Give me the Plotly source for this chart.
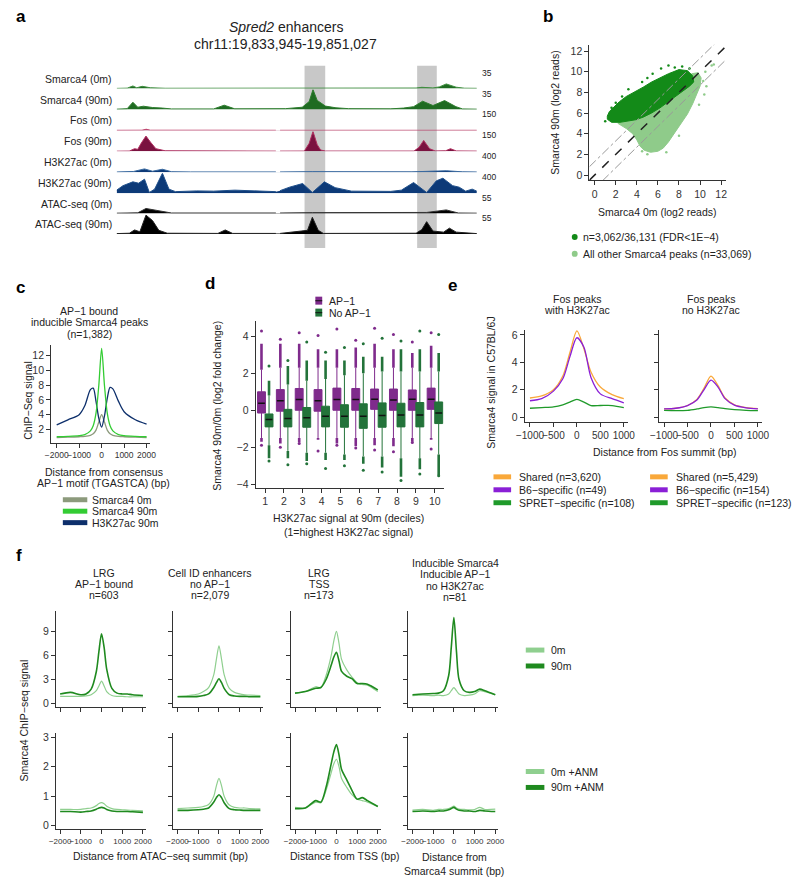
import plotly.graph_objects as go

W, H = 800, 886
FONT = "Arial, Liberation Sans, sans-serif"
TXT = 10.5

# ---------------- a: browser tracks (kb from chr11:19,833,945) ----------------
a_window_kb = [0, 17.08]
a_highlights_kb = [[8.91, 9.89], [14.25, 15.18]]
a_track_names = ["Smarca4 (0m)", "Smarca4 (90m)", "Fos (0m)", "Fos (90m)",
                 "H3K27ac (0m)", "H3K27ac (90m)", "ATAC-seq (0m)", "ATAC-seq (90m)"]
a_track_scales = [35, 35, 150, 150, 400, 400, 55, 55]

smarca4_0m_kb = [0, 0.5, 0.77, 0.95, 1.21, 1.6, 2.3, 5.2, 9.3, 9.4, 9.5, 13.5, 14.2, 14.47, 15.0, 15.3, 15.63, 16.1, 16.5, 17.08]
smarca4_0m = [0.4, 0.8, 4.7, 1.5, 4.0, 1.5, 0.6, 0.8, 0.8, 1.3, 0.8, 0.6, 1.0, 2.3, 1.2, 3.0, 8.2, 2.5, 0.7, 0.5]
smarca4_90m_kb = [0, 0.5, 0.77, 1.0, 1.27, 1.7, 2.17, 2.6, 4.6, 5.1, 5.6, 8.0, 8.8, 9.13, 9.31, 9.51, 9.9, 10.4, 11.0, 13.0,
                  13.6, 14.08, 14.51, 15.0, 15.55, 16.09, 16.4, 17.08]
smarca4_90m = [0.6, 1.5, 12.8, 4.0, 5.8, 3.5, 2.5, 1.0, 1.0, 7.6, 1.2, 1.5, 4.0, 14.0, 35, 16, 6, 3, 1.5, 1.2,
               2.5, 5.0, 14.6, 7.0, 15.7, 5.0, 1.0, 0.6]
fos_0m_kb = [0, 1.2, 1.4, 1.6, 5.0, 7.55, 7.6, 7.75, 9.2, 9.31, 9.45, 14.5, 14.6, 14.7, 17.08]
fos_0m = [1, 1.5, 9, 1.5, 1.5, 1, None, 1, 1, 4, 1, 1, 5, 1, 1]
fos_90m_kb = [0, 0.6, 0.85, 1.0, 1.16, 1.39, 1.6, 1.86, 2.3, 7.55, 7.6, 7.75, 8.9, 9.13, 9.31, 9.51, 9.67, 9.9, 14.1, 14.34,
              14.56, 14.84, 15.1, 15.6, 15.83, 16.1, 17.08]
fos_90m = [1, 2, 20, 15, 60, 115, 70, 20, 4, 1.5, None, 1.5, 2, 60, 150, 50, 10, 2, 2, 30,
           82, 20, 3, 4, 20, 3, 1.5]
h3k27ac_0m_kb = [0, 0.8, 1.32, 1.7, 2.17, 2.6, 3.5, 7.55, 7.6, 7.75, 9.3, 14.0, 15.63, 16.4, 17.08]
h3k27ac_0m = [5, 15, 67, 20, 60, 10, 6, 6, None, 6, 12, 8, 30, 8, 5]
h3k27ac_90m_kb = [0, 0.3, 0.77, 1.04, 1.32, 1.55, 1.8, 2.17, 2.48, 2.79, 3.8, 4.6, 5.6, 6.2, 6.8, 7.2, 7.55, 7.6, 7.75, 8.2,
                  8.82, 9.28, 9.85, 10.36, 11.14, 13.0, 13.5, 14.08, 14.70, 15.16, 15.47, 15.93, 16.24, 16.55, 16.86, 17.08]
h3k27ac_90m = [60, 150, 227, 200, 280, 13, 80, 400, 80, 30, 45, 40, 60, 55, 40, 45, 30, None, 50, 120,
               193, 13, 227, 110, 40, 35, 60, 213, 13, 247, 300, 150, 120, 40, 80, 40]
atac_0m_kb = [0, 1.0, 1.39, 2.17, 2.6, 7.55, 7.6, 7.75, 9.28, 14.7, 15.63, 16.2, 17.08]
atac_0m = [1, 2, 14, 5, 1.5, 1.5, None, 1.5, 2.5, 3, 10, 1.5, 1]
atac_90m_kb = [0, 0.6, 0.85, 1.1, 1.39, 1.7, 2.0, 2.4, 4.8, 5.15, 5.5, 7.55, 7.6, 7.75, 9.05, 9.28, 9.56, 9.8, 14.2, 14.47,
               14.7, 15.0, 15.5, 15.78, 16.1, 17.08]
atac_90m = [1, 2, 11, 6, 52, 37, 10, 2, 1.5, 11, 1.5, 1.5, None, 1.5, 10, 46, 10, 1.5, 2, 12,
            34, 8, 5, 16, 5, 1]

# ---------------- b: scatter cloud outlines (log2 reads) ----------------
b_other_x = [2.2, 3.0, 3.6, 4.0, 4.3, 4.7, 5.3, 6.0, 6.5, 7.0, 7.6, 8.2, 8.8, 9.3, 9.7, 10.0, 10.1, 9.8, 9.2, 8.4, 7.0, 5.4, 4.0, 3.0, 2.2]
b_other_y = [5.0, 4.5, 4.0, 3.4, 2.8, 2.4, 2.2, 2.3, 2.6, 3.2, 4.1, 5.0, 5.9, 6.9, 7.8, 8.6, 9.4, 9.9, 9.8, 8.9, 7.8, 6.7, 5.9, 5.4, 5.0]
b_sig_x = [1.2, 1.6, 2.4, 3.2, 3.9, 4.6, 5.4, 6.2, 7.0, 7.8, 8.5, 9.0, 9.4, 9.3, 8.8, 8.0, 7.0, 6.2, 5.4, 4.6, 3.9, 3.0, 2.35, 1.8, 1.4, 1.2, 1.2]
b_sig_y = [5.4, 5.1, 5.1, 5.2, 5.35, 5.6, 6.0, 6.5, 7.1, 7.7, 8.2, 8.6, 9.0, 9.6, 10.1, 10.2, 9.8, 9.4, 9.0, 8.5, 8.1, 7.6, 7.1, 6.6, 6.15, 5.7, 5.4]
b_sig_pts_x = [2.0, 1.6, 3.2, 4.5, 5.5, 6.3, 7.0, 7.6, 5.0, 2.6, 1.0, 8.3, 9.0]
b_sig_pts_y = [7.0, 6.5, 8.3, 9.0, 9.8, 10.3, 10.6, 10.4, 9.4, 7.6, 5.2, 10.5, 10.3]
b_other_pts_x = [10.5, 11.1, 10.3, 10.6, 8.0, 6.8, 5.0, 4.5, 9.9, 10.4, 11.3]
b_other_pts_y = [10.0, 10.6, 9.1, 8.6, 3.8, 2.2, 2.0, 2.3, 6.8, 7.8, 10.7]
b_diag_offsets = [0, 1.3, -1.3]

# ---------------- c: aggregate profiles ----------------
c_x = [-2000, -1500, -1000, -750, -500, -375, -250, -125, 0, 125, 250, 375, 500, 750, 1000, 1500, 2000]
c_smarca4_0m = [0.9, 0.95, 1.0, 1.05, 1.2, 1.4, 1.9, 3.0, 4.0, 3.0, 1.9, 1.4, 1.2, 1.05, 1.0, 0.95, 0.9]
c_smarca4_90m = [1.0, 1.05, 1.15, 1.3, 1.8, 2.5, 4.2, 8.0, 13.0, 8.0, 4.2, 2.5, 1.8, 1.3, 1.15, 1.05, 1.0]
c_h3k27ac_90m = [2.6, 3.3, 4.0, 5.2, 7.4, 7.6, 5.8, 3.5, 2.3, 3.8, 6.2, 7.7, 7.5, 5.8, 4.4, 3.3, 2.7]

# ---------------- d: boxplots by H3K27ac decile ----------------
d_deciles = [1, 2, 3, 4, 5, 6, 7, 8, 9, 10]
d_ap1_q1 = [-0.15, -0.05, 0.0, -0.05, 0.0, 0.0, 0.05, 0.0, 0.0, 0.05]
d_ap1_med = [0.38, 0.52, 0.58, 0.52, 0.58, 0.58, 0.6, 0.55, 0.6, 0.6]
d_ap1_q3 = [1.0, 1.12, 1.18, 1.12, 1.2, 1.18, 1.15, 1.15, 1.1, 1.2]
d_ap1_lo = [-1.5, -1.5, -1.5, -1.5, -1.5, -1.5, -1.5, -1.5, -1.5, -1.5]
d_ap1_hi = [2.2, 2.3, 2.3, 2.3, 2.3, 2.3, 2.3, 2.3, 2.3, 2.3]
d_ap1_dense_lo = [-1.7, -1.8, -1.75, -1.6, -1.8, -1.95, -1.9, -1.95, -1.7, -1.6]
d_ap1_dense_hi = [3.6, 3.6, 3.6, 3.3, 3.3, 3.4, 3.6, 3.3, 3.1, 3.5]
d_ap1_min = [-1.9, -2.0, -1.8, -2.2, -1.9, -2.05, -2.15, -2.25, -1.75, -2.1]
d_ap1_max = [4.3, 3.85, 4.2, 4.05, 4.4, 3.8, 4.45, 4.1, 3.7, 4.2]
d_no_q1 = [-0.9, -0.9, -0.92, -0.9, -0.92, -0.98, -0.92, -0.9, -0.9, -0.72]
d_no_med = [-0.5, -0.45, -0.4, -0.32, -0.32, -0.32, -0.28, -0.25, -0.25, -0.15]
d_no_q3 = [-0.2, 0.05, 0.15, 0.22, 0.3, 0.35, 0.4, 0.38, 0.42, 0.45]
d_no_lo = [-1.9, -2.2, -2.3, -2.3, -2.4, -2.5, -2.5, -2.6, -2.6, -2.4]
d_no_hi = [0.8, 1.4, 1.6, 1.7, 1.9, 2.0, 2.1, 2.1, 2.1, 2.1]
d_no_dense_lo = [-2.6, -2.6, -2.75, -2.7, -2.7, -2.9, -3.1, -3.6, -3.2, -3.5]
d_no_dense_hi = [1.6, 2.4, 2.7, 2.7, 2.7, 2.9, 2.9, 3.3, 3.3, 3.1]
d_no_min = [-2.75, -2.95, -2.9, -3.15, -3.0, -3.25, -3.35, -3.8, -3.45, -3.55]
d_no_max = [2.4, 2.7, 3.7, 3.15, 3.4, 3.6, 3.9, 3.75, 4.3, 4.1]

# ---------------- e: Fos-summit profiles ----------------
e_x = [-1000, -750, -500, -300, -150, 0, 150, 300, 500, 750, 1000]
e_with_shared = [1.4, 1.55, 2.0, 3.0, 4.7, 6.3, 5.0, 3.3, 2.2, 1.65, 1.35]
e_with_b6 = [1.2, 1.35, 1.9, 2.8, 4.4, 5.8, 5.1, 2.9, 1.7, 1.35, 1.05]
e_with_spret = [0.65, 0.7, 0.75, 0.9, 1.1, 1.3, 1.1, 0.85, 0.85, 0.85, 0.7]
e_no_shared = [0.6, 0.65, 0.85, 1.3, 2.1, 3.0, 2.3, 1.4, 0.9, 0.7, 0.62]
e_no_b6 = [0.6, 0.65, 0.85, 1.25, 2.0, 2.7, 2.2, 1.35, 0.88, 0.68, 0.6]
e_no_spret = [0.5, 0.48, 0.5, 0.6, 0.7, 0.75, 0.7, 0.62, 0.55, 0.5, 0.48]
e_with_labels = ["Shared (n=3,620)", "B6\u2212specific (n=49)", "SPRET\u2212specific (n=108)"]
e_no_labels = ["Shared (n=5,429)", "B6\u2212specific (n=154)", "SPRET\u2212specific (n=123)"]

# ---------------- f: Smarca4 profiles, untreated / +ANM ----------------
f_x = [-2000, -1500, -1000, -750, -500, -250, -125, 0, 125, 250, 500, 750, 1000, 1250, 1500, 2000]
f_lrg_ap1_0m = [0.9, 0.9, 0.9, 0.95, 1.1, 1.6, 2.2, 2.8, 2.2, 1.5, 1.0, 0.9, 0.9, 0.85, 0.85, 0.85]
f_lrg_ap1_90m = [1.2, 1.4, 1.1, 1.2, 1.8, 4.0, 6.5, 8.7, 7.0, 4.3, 1.9, 1.3, 1.2, 1.2, 1.1, 1.0]
f_cellid_0m = [0.9, 1.0, 1.2, 1.5, 2.0, 3.6, 5.5, 7.2, 5.5, 3.6, 1.9, 1.4, 1.2, 1.1, 1.05, 1.0]
f_cellid_90m = [0.85, 0.85, 0.9, 1.0, 1.2, 2.0, 2.6, 3.1, 2.6, 1.9, 1.1, 0.95, 0.9, 0.9, 0.85, 0.85]
f_tss_0m = [1.3, 1.5, 2.1, 2.0, 3.5, 6.0, 7.8, 9.0, 7.5, 5.5, 4.2, 3.3, 2.6, 2.4, 2.3, 1.5]
f_tss_90m = [1.3, 1.5, 1.9, 2.0, 3.0, 4.8, 5.8, 6.4, 5.3, 4.0, 3.4, 3.1, 2.5, 2.5, 2.4, 1.7]
f_ind_0m = [1.0, 1.05, 1.0, 1.05, 1.0, 1.2, 1.6, 2.0, 1.6, 1.2, 1.0, 1.05, 1.2, 1.6, 1.5, 1.1]
f_ind_90m = [1.1, 1.2, 1.25, 1.3, 1.6, 3.5, 7.0, 10.7, 6.5, 3.0, 1.6, 1.4, 1.5, 1.8, 1.6, 1.1]
f_lrg_ap1_0m_anm = [0.55, 0.55, 0.55, 0.58, 0.6, 0.68, 0.75, 0.78, 0.74, 0.66, 0.58, 0.55, 0.54, 0.53, 0.52, 0.5]
f_lrg_ap1_90m_anm = [0.48, 0.48, 0.46, 0.48, 0.5, 0.56, 0.6, 0.62, 0.6, 0.55, 0.5, 0.48, 0.48, 0.48, 0.47, 0.45]
f_cellid_0m_anm = [0.58, 0.6, 0.62, 0.65, 0.72, 1.0, 1.35, 1.6, 1.35, 1.0, 0.7, 0.62, 0.6, 0.6, 0.58, 0.57]
f_cellid_90m_anm = [0.52, 0.52, 0.54, 0.56, 0.6, 0.8, 0.95, 1.05, 0.95, 0.78, 0.58, 0.54, 0.53, 0.52, 0.52, 0.52]
f_tss_0m_anm = [0.62, 0.6, 0.8, 0.78, 1.2, 1.8, 2.1, 2.25, 2.0, 1.6, 1.3, 1.05, 0.9, 0.85, 0.8, 0.65]
f_tss_90m_anm = [0.58, 0.6, 0.85, 0.8, 1.3, 2.1, 2.5, 2.75, 2.4, 1.9, 1.55, 1.2, 0.9, 0.95, 0.85, 0.65]
f_ind_0m_anm = [0.53, 0.55, 0.52, 0.55, 0.55, 0.58, 0.62, 0.66, 0.6, 0.56, 0.55, 0.54, 0.55, 0.62, 0.55, 0.56]
f_ind_90m_anm = [0.48, 0.5, 0.48, 0.5, 0.5, 0.54, 0.58, 0.62, 0.56, 0.52, 0.5, 0.5, 0.48, 0.52, 0.5, 0.48]
f_col_titles = [["LRG", "AP\u22121 bound", "n=603"],
                ["Cell ID enhancers", "no AP\u22121", "n=2,079"],
                ["LRG", "TSS", "n=173"],
                ["Inducible Smarca4", "Inducible AP\u22121", "no H3K27ac", "n=81"]]

# ---------------- helpers ----------------
fig = go.Figure()
layout = {}
annotations = []
shapes = []
n_axes = 0


def axes(left, top, right, bottom, xr, yr, xticks=None, yticks=None,
         xlabels=True, ylabels=True, xfont=TXT, yfont=TXT, hidden=False):
    global n_axes
    n_axes += 1
    s = '' if n_axes == 1 else str(n_axes)
    common = dict(showgrid=False, zeroline=False, showline=True, linecolor='#333', linewidth=1,
                  ticks='outside', ticklen=4, tickwidth=1, tickcolor='#333', fixedrange=True,
                  tickformat='d', tickangle=0)
    xa = dict(common, domain=[left / W, right / W], range=xr, anchor='y' + s, tickvals=xticks,
              showticklabels=xlabels, tickfont=dict(size=xfont, color='#333', family=FONT))
    ya = dict(common, domain=[1 - bottom / H, 1 - top / H], range=yr, anchor='x' + s, tickvals=yticks,
              showticklabels=ylabels, tickfont=dict(size=yfont, color='#333', family=FONT))
    if hidden:
        xa['visible'] = False
        ya['visible'] = False
    layout['xaxis' + s] = xa
    layout['yaxis' + s] = ya
    return 'x' + s, 'y' + s


def text(x, y, s, size=TXT, anchor='center', angle=0, color='#222'):
    annotations.append(dict(x=x / W, y=1 - y / H, xref='paper', yref='paper', text=s, showarrow=False,
                            font=dict(size=size, color=color, family=FONT), xanchor=anchor,
                            yanchor='middle', textangle=angle))


def rect(x0, y0, x1, y1, color):
    shapes.append(dict(type='rect', xref='paper', yref='paper', x0=x0 / W, x1=x1 / W,
                       y0=1 - y1 / H, y1=1 - y0 / H, fillcolor=color, line=dict(width=0), layer='above'))


def line(xa, ya, x, y, color, width=1.2, dash=None, smooth=True):
    fig.add_trace(go.Scatter(x=x, y=y, xaxis=xa, yaxis=ya, mode='lines', showlegend=False, hoverinfo='skip',
                             line=dict(color=color, width=width, dash=dash,
                                       shape='spline' if smooth else 'linear', smoothing=0.8)))


# ---------------- panel a ----------------
text(12, 15, "<b>a</b>", size=17, color='#000')
text(283, 25, "<i>Spred2</i> enhancers", size=14)
text(283, 42, "chr11:19,833,945-19,851,027", size=14)
tracks = [(smarca4_0m_kb, smarca4_0m), (smarca4_90m_kb, smarca4_90m), (fos_0m_kb, fos_0m), (fos_90m_kb, fos_90m),
          (h3k27ac_0m_kb, h3k27ac_0m), (h3k27ac_90m_kb, h3k27ac_90m), (atac_0m_kb, atac_0m), (atac_90m_kb, atac_90m)]
track_fill = ['#1f6b22', '#1f6b22', '#7a1240', '#7a1240', '#0d3a78', '#0d3a78', '#000000', '#000000']
track_line = ['#3f8f3f', '#2e7d2e', '#c2456f', '#b03060', '#3a6aa0', '#1f4f8a', '#333333', '#222222']
baselines = [87, 108, 129, 150, 171, 192, 212.5, 233]
first_ax = None
for i, (kb, val) in enumerate(tracks):
    xa, ya = axes(110, baselines[i] - 20, 478, baselines[i], a_window_kb, [0, a_track_scales[i]], hidden=True)
    if first_ax is None:
        first_ax = xa
    fig.add_trace(go.Scatter(x=kb, y=val, xaxis=xa, yaxis=ya, mode='lines', fill='tozeroy',
                             fillcolor=track_fill[i], line=dict(color=track_line[i], width=1),
                             connectgaps=False, showlegend=False, hoverinfo='skip'))
    text(107, baselines[i] - 10, a_track_names[i], size=TXT, anchor='right')
    text(481, baselines[i] - 16, str(a_track_scales[i]), size=8.5, anchor='left')
for lo, hi in a_highlights_kb:
    shapes.append(dict(type='rect', xref=first_ax, yref='paper', x0=lo, x1=hi, y0=1 - 247 / H, y1=1 - 64 / H,
                       fillcolor='#c8c8c8', line=dict(width=0), layer='below'))

# ---------------- panel b ----------------
text(551, 15, "<b>b</b>", size=17, color='#000')
xb, yb = axes(593, 43, 733, 179, [-0.5, 12.5], [-0.5, 12.6], xticks=[0, 2, 4, 6, 8, 10, 12], yticks=[0, 2, 4, 6, 8, 10, 12])
dark_b, light_b = '#138a18', '#8fcb8a'
fig.add_trace(go.Scatter(x=b_other_x, y=b_other_y, xaxis=xb, yaxis=yb, fill='toself', fillcolor=light_b, mode='lines',
                         line=dict(color=light_b, width=1), showlegend=False, hoverinfo='skip'))
fig.add_trace(go.Scatter(x=b_other_pts_x, y=b_other_pts_y, xaxis=xb, yaxis=yb, mode='markers',
                         marker=dict(color=light_b, size=2.5), showlegend=False, hoverinfo='skip'))
fig.add_trace(go.Scatter(x=b_sig_x, y=b_sig_y, xaxis=xb, yaxis=yb, fill='toself', fillcolor=dark_b, mode='lines',
                         line=dict(color=dark_b, width=1), showlegend=False, hoverinfo='skip'))
fig.add_trace(go.Scatter(x=b_sig_pts_x, y=b_sig_pts_y, xaxis=xb, yaxis=yb, mode='markers',
                         marker=dict(color=dark_b, size=2.5), showlegend=False, hoverinfo='skip'))
for off in b_diag_offsets:
    if off == 0:
        line(xb, yb, [-0.5, 12.5], [-0.5, 12.5], '#222', width=1.5, dash='dash', smooth=False)
    else:
        line(xb, yb, [-0.5, 12.5], [-0.5 + off, 12.5 + off], '#999', width=1, dash='dashdot', smooth=False)
text(662, 211, "Smarca4 0m (log2 reads)")
text(558, 111, "Smarca4 90m (log2 reads)", angle=-90)
shapes.append(dict(type='circle', xref='paper', yref='paper', x0=575 / W, x1=581 / W, y0=1 - 239 / H, y1=1 - 233 / H,
                   fillcolor=dark_b, line=dict(width=0)))
shapes.append(dict(type='circle', xref='paper', yref='paper', x0=575 / W, x1=581 / W, y0=1 - 256 / H, y1=1 - 250 / H,
                   fillcolor=light_b, line=dict(width=0)))
text(584, 236, "n=3,062/36,131 (FDR<1E\u22124)", anchor='left')
text(584, 253, "All other Smarca4 peaks (n=33,069)", anchor='left')

# ---------------- panel c ----------------
text(12, 287, "<b>c</b>", size=17, color='#000')
for j, s in enumerate(["AP\u22121 bound", "inducible Smarca4 peaks", "(n=1,382)"]):
    text(82, 310 + j * 11.7, s)
xc, yc = axes(43, 345, 144, 443, [-2250, 2150], [0.15, 13.4], xticks=[-2000, -1000, 0, 1000, 2000],
              yticks=[2, 4, 6, 8, 10, 12], xfont=8.5)
c_cols = ['#8c9a7c', '#33cc33', '#0d2f6b']
line(xc, yc, c_x, c_smarca4_0m, c_cols[0], 1.3)
line(xc, yc, c_x, c_h3k27ac_90m, c_cols[2], 1.3)
line(xc, yc, c_x, c_smarca4_90m, c_cols[1], 1.3)
text(20, 400, "ChIP\u2212Seq signal", angle=-90)
text(97, 472, "Distance from consensus")
text(97, 483.5, "AP\u22121 motif (TGASTCA) (bp)")
for j, (lab, col) in enumerate(zip(["Smarca4 0m", "Smarca4 90m", "H3K27ac 90m"], c_cols)):
    rect(55, 497.5 + j * 11.5, 80, 502.5 + j * 11.5, col)
    text(83, 500 + j * 11.5, lab, anchor='left')

# ---------------- panel d ----------------
text(205, 283, "<b>d</b>", size=17, color='#000')
xd, yd = axes(252, 320, 444.6, 488, [0.5, 10.5], [-4.2, 4.86], xticks=d_deciles, yticks=[-4, -2, 0, 2, 4])
purple_d, green_d = '#7f2b8c', '#23733a'
groups = [(-0.19, purple_d, d_ap1_q1, d_ap1_med, d_ap1_q3, d_ap1_lo, d_ap1_hi, d_ap1_dense_lo, d_ap1_dense_hi, d_ap1_min, d_ap1_max),
          (0.21, green_d, d_no_q1, d_no_med, d_no_q3, d_no_lo, d_no_hi, d_no_dense_lo, d_no_dense_hi, d_no_min, d_no_max)]
for off, col, q1, med, q3, lo, hi, dlo, dhi, mn, mx in groups:
    xs = [c + off for c in d_deciles]
    sx, sy = [], []
    for k in range(len(xs)):
        sx += [xs[k], xs[k], None, xs[k], xs[k], None]
        sy += [hi[k], dhi[k], None, lo[k], dlo[k], None]
    fig.add_trace(go.Scatter(x=sx, y=sy, xaxis=xd, yaxis=yd, mode='lines', line=dict(color=col, width=2.6),
                             showlegend=False, hoverinfo='skip'))
    fig.add_trace(go.Scatter(x=xs + xs, y=mn + mx, xaxis=xd, yaxis=yd, mode='markers',
                             marker=dict(color=col, size=3), showlegend=False, hoverinfo='skip'))
    fig.add_trace(go.Box(x=xs, q1=q1, median=med, q3=q3, lowerfence=lo, upperfence=hi, xaxis=xd, yaxis=yd,
                         width=0.42, fillcolor=col, line=dict(color=col, width=1), whiskerwidth=0,
                         showlegend=False, hoverinfo='skip'))
    mx_, my_ = [], []
    for k in range(len(xs)):
        mx_ += [xs[k] - 0.18, xs[k] + 0.18, None]
        my_ += [med[k], med[k], None]
    fig.add_trace(go.Scatter(x=mx_, y=my_, xaxis=xd, yaxis=yd, mode='lines', line=dict(color='#111', width=1.5),
                             showlegend=False, hoverinfo='skip'))
rect(313, 296, 320, 304, purple_d)
rect(313, 308, 320, 316, green_d)
rect(313, 299.6, 320, 300.6, '#111')
rect(313, 311.6, 320, 312.6, '#111')
text(325, 300, "AP\u22121", anchor='left')
text(325, 312, "No AP\u22121", anchor='left')
text(213, 405, "Smarca4 90m/0m (log2 fold change)", angle=-90)
text(347, 518, "H3K27ac signal at 90m (deciles)")
text(347, 532, "(1=highest H3K27ac signal)")

# ---------------- panel e ----------------
text(453, 285, "<b>e</b>", size=17, color='#000')
e_cols = ['#f9a83a', '#8a1fd6', '#1f9a2a']
for k, (left, t1, t2, series, labels) in enumerate([
        (527, "Fos peaks", "with H3K27ac", [e_with_shared, e_with_b6, e_with_spret], e_with_labels),
        (664, "Fos peaks", "no H3K27ac", [e_no_shared, e_no_b6, e_no_spret], e_no_labels)]):
    xe, ye = axes(left, 329, left + 105, 422, [-1110, 1080], [-0.36, 6.4],
                  xticks=[-1000, -500, 0, 500, 1000], yticks=[0, 2, 4, 6], ylabels=(k == 0), xfont=10)
    line(xe, ye, e_x, series[2], e_cols[2], 1.3)
    line(xe, ye, e_x, series[0], e_cols[0], 1.3)
    line(xe, ye, e_x, series[1], e_cols[1], 1.3)
    cx = left + 53
    text(cx, 298, t1)
    text(cx, 309.5, t2)
    bx = 495 if k == 0 else 655
    for j, lab in enumerate(labels):
        rect(bx, 474.5 + j * 13, bx + 18, 479.5 + j * 13, e_cols[j])
        text(bx + 24, 477 + j * 13, lab, anchor='left')
text(493, 382, "Smarca4 signal in C57BL/6J", angle=-90)
text(670, 452, "Distance from Fos summit (bp)")

# ---------------- panel f ----------------
text(10, 556, "<b>f</b>", size=17, color='#000')
f_light, f_dark = '#8fcf8f', '#1f8a1f'
top_series = [(f_lrg_ap1_0m, f_lrg_ap1_90m), (f_cellid_0m, f_cellid_90m), (f_tss_0m, f_tss_90m), (f_ind_0m, f_ind_90m)]
bot_series = [(f_lrg_ap1_0m_anm, f_lrg_ap1_90m_anm), (f_cellid_0m_anm, f_cellid_90m_anm),
              (f_tss_0m_anm, f_tss_90m_anm), (f_ind_0m_anm, f_ind_90m_anm)]
col_left = [48, 168, 288, 408]
col_center = [97, 205, 317, 456]
for k in range(4):
    left = col_left[k]
    xt, yt = axes(left, 612, left + 92, 708, [-2200, 2150], [-0.4, 11.5], xticks=[-2000, -1000, 0, 1000, 2000],
                  yticks=[0, 3, 6, 9], xlabels=False, ylabels=(k == 0))
    line(xt, yt, f_x, top_series[k][0], f_light, 1.2)
    line(xt, yt, f_x, top_series[k][1], f_dark, 1.6)
    xb2, yb2 = axes(left, 734, left + 92, 831, [-2200, 2150], [-0.12, 3.15], xticks=[-2000, -1000, 0, 1000, 2000],
                    yticks=[0, 1, 2, 3], ylabels=(k == 0), xfont=8)
    line(xb2, yb2, f_x, bot_series[k][0], f_light, 1.2)
    line(xb2, yb2, f_x, bot_series[k][1], f_dark, 1.6)
    titles = f_col_titles[k]
    y0 = 598 - 11.6 * (len(titles) - 1) if k == 3 else 596 - 11 * (len(titles) - 1)
    for j, s in enumerate(titles):
        text(col_center[k], y0 + j * (11.6 if k == 3 else 11), s)
text(15, 722, "Smarca4 ChIP\u2212seq signal", angle=-90)
text(155, 858, "Distance from ATAC\u2212seq summit (bp)")
text(343, 858, "Distance from TSS (bp)")
text(455, 859, "Distance from")
text(455, 872.5, "Smarca4 summit (bp)")
for j, (lab, col) in enumerate([("0m", f_light), ("90m", f_dark)]):
    rect(528, 648.5 + j * 16, 547, 653.5 + j * 16, col)
    text(552, 651 + j * 16, lab, anchor='left')
for j, (lab, col) in enumerate([("0m +ANM", f_light), ("90m +ANM", f_dark)]):
    rect(528, 770.5 + j * 16, 547, 775.5 + j * 16, col)
    text(552, 773 + j * 16, lab, anchor='left')

layout.update(dict(width=W, height=H, margin=dict(l=0, r=0, t=0, b=0), paper_bgcolor='white',
                   plot_bgcolor='rgba(0,0,0,0)', showlegend=False, boxmode='overlay',
                   font=dict(family=FONT, size=TXT, color='#222'),
                   annotations=annotations, shapes=shapes))
fig.update_layout(**layout)
fig.write_html("out.html", config={'displayModeBar': False},
               post_script="document.body.style.margin='0';document.body.style.overflow='hidden';")
